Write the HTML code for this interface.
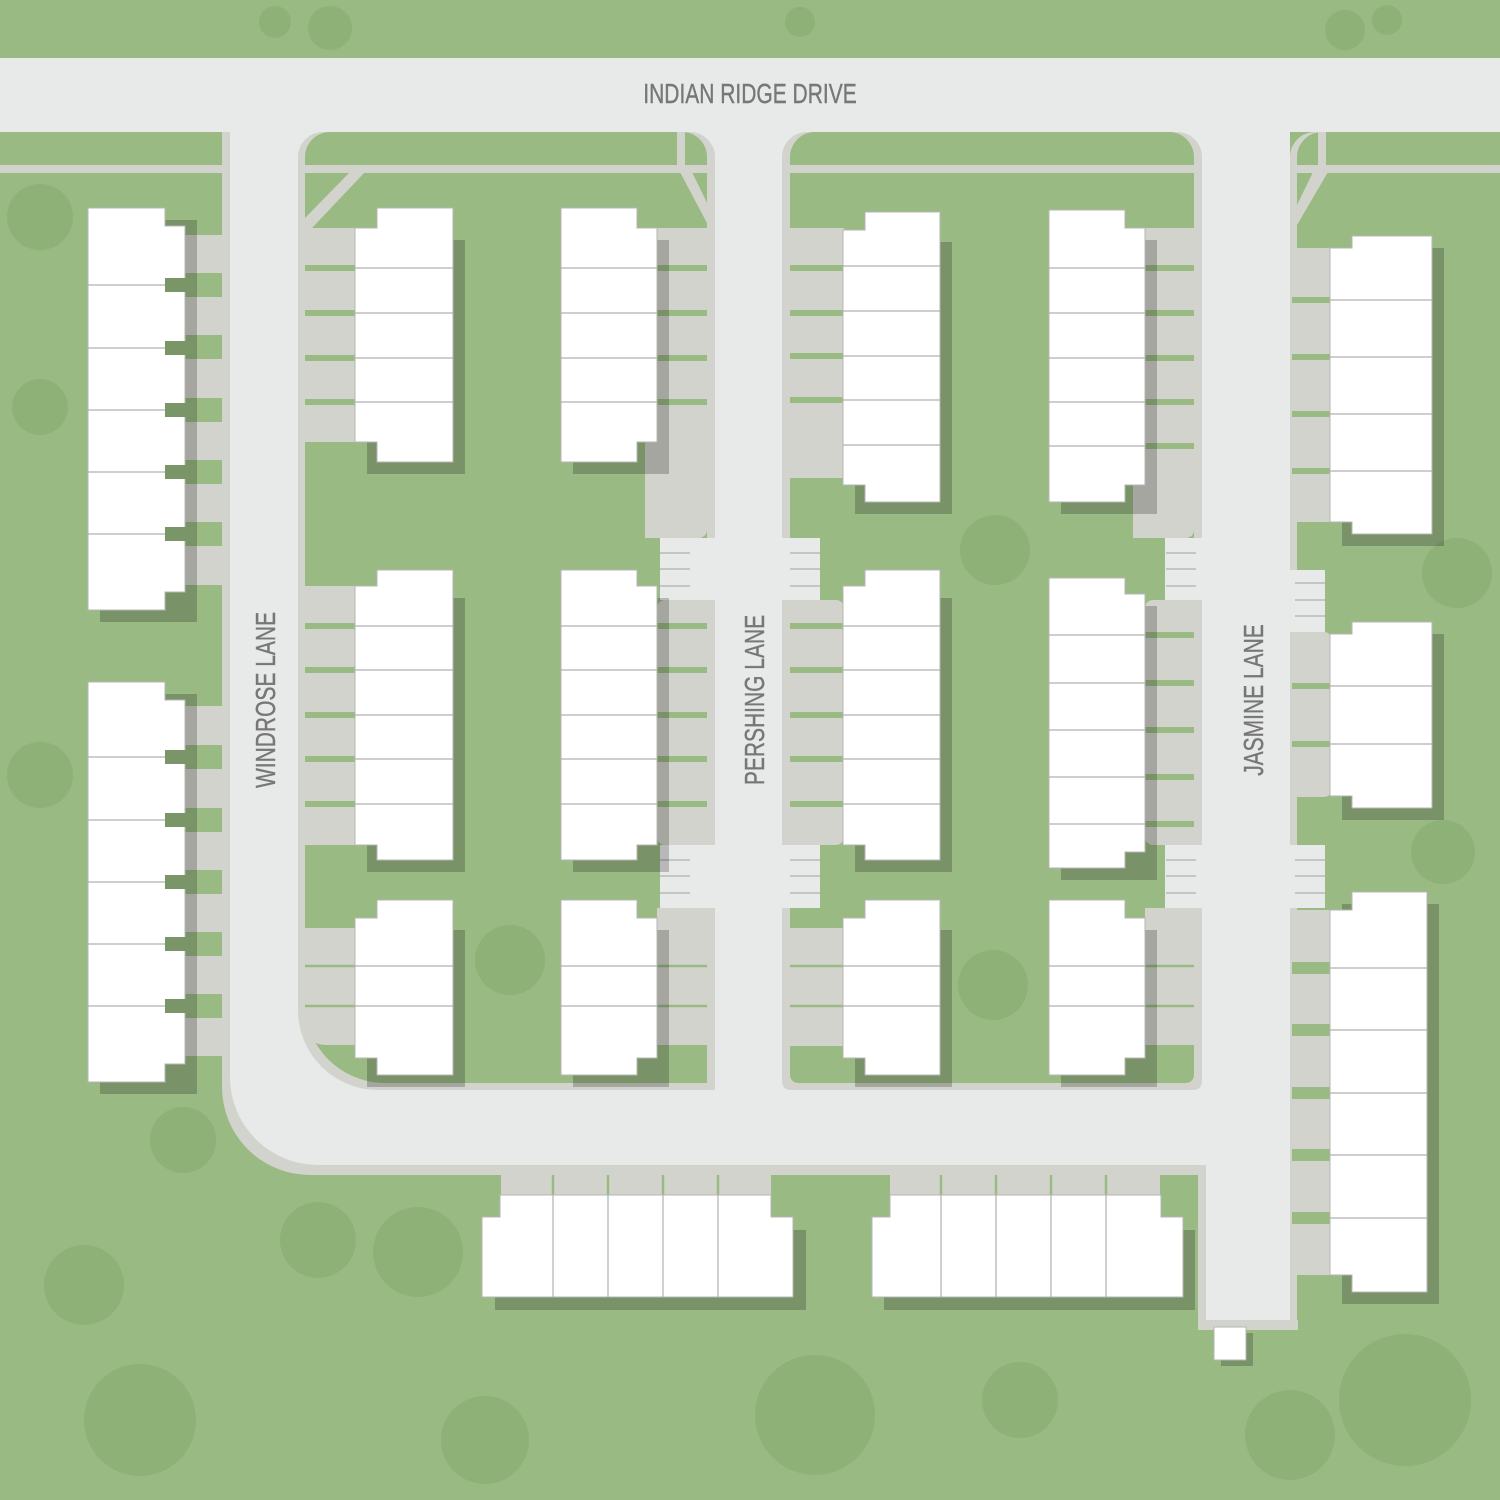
<!DOCTYPE html>
<html><head><meta charset="utf-8"><style>html,body{margin:0;padding:0;background:#9aba84}svg{display:block}</style></head><body>
<svg width="1500" height="1500" viewBox="0 0 1500 1500" xmlns="http://www.w3.org/2000/svg">
<rect width="1500" height="1500" fill="#9aba84"/>
<!-- roads -->
<path d="M0,58 H1500 V132 H1290 V1330 H1198 V1175 H310 A88 88 0 0 1 222 1087 V132 H0 Z" fill="#d2d3cc"/>
<path d="M0,58 H1500 V132 H1290 V1320 H1206 V1165 H318 A88 88 0 0 1 230 1077 V132 H0 Z" fill="#e8eae9"/>
<!-- blocks -->
<path d="M298,157 A25 25 0 0 1 323 132 H690 A25 25 0 0 1 715 157 V1090 H378 A80 80 0 0 1 298 1010 Z" fill="#d2d3cc"/>
<path d="M305,157 A25 25 0 0 1 330 132 H683 A25 25 0 0 1 707 157 V1083 H385 A80 80 0 0 1 305 1003 Z" fill="#9aba84"/>
<path d="M782,157 A25 25 0 0 1 807 132 H1177 A25 25 0 0 1 1202 157 V1082 A8 8 0 0 1 1194 1090 H790 A8 8 0 0 1 782 1082 Z" fill="#d2d3cc"/>
<path d="M790,157 A25 25 0 0 1 815 132 H1169 A25 25 0 0 1 1194 157 V1075 A8 8 0 0 1 1186 1083 H798 A8 8 0 0 1 790 1075 Z" fill="#9aba84"/>
<path d="M0,132 H197 A25 25 0 0 1 222 157 V1087 H0Z" fill="#9aba84"/>
<rect x="222" y="150" width="8" height="940" fill="#d2d3cc"/>
<path d="M1290,157 A25 25 0 0 1 1315 132 H1500 V1330 H1290Z" fill="#d2d3cc"/>
<path d="M1297,157 A25 25 0 0 1 1322 132 H1500 V1500 H1297Z" fill="#9aba84"/>
<rect x="1200" y="1320" width="98" height="10" fill="#d2d3cc"/>
<!-- trees -->
<g fill="#8db177">
<circle cx="275" cy="22" r="16"/><circle cx="330" cy="28" r="22"/><circle cx="800" cy="22" r="15"/><circle cx="1345" cy="30" r="20"/><circle cx="1387" cy="20" r="15"/>
<circle cx="40" cy="217" r="33"/><circle cx="40" cy="407" r="28"/><circle cx="40" cy="775" r="33"/><circle cx="183" cy="1140" r="33"/><circle cx="318" cy="1240" r="38"/><circle cx="418" cy="1252" r="45"/><circle cx="84" cy="1285" r="40"/><circle cx="140" cy="1420" r="56"/><circle cx="485" cy="1440" r="44"/><circle cx="815" cy="1415" r="60"/><circle cx="1020" cy="1400" r="38"/><circle cx="1290" cy="1435" r="45"/><circle cx="1405" cy="1400" r="66"/><circle cx="995" cy="550" r="35"/><circle cx="510" cy="960" r="35"/><circle cx="993" cy="985" r="35"/><circle cx="1457" cy="573" r="35"/><circle cx="1443" cy="852" r="32"/>
</g>
<!-- sidewalks -->
<g fill="#d2d3cc">
<rect x="0" y="165" width="222" height="8"/><rect x="305" y="165" width="403" height="8"/><rect x="790" y="165" width="405" height="8"/><rect x="1297" y="165" width="203" height="8"/>
<rect x="677" y="132" width="8" height="40"/><rect x="1318" y="132" width="8" height="40"/>
<polygon points="305,218 350,172 365,172 312,228 305,228"/>
<polygon points="680,172 692,172 708,205 708,225"/>
<polygon points="1313,172 1328,172 1297,225 1297,205"/>
</g>
<!-- crossings -->
<g fill="#e8eae9">
<rect x="660" y="538" width="160" height="62"/><rect x="660" y="845" width="160" height="63"/>
<rect x="1165" y="538" width="40" height="62"/><rect x="1165" y="845" width="40" height="63"/>
<rect x="1288" y="570" width="37" height="62"/><rect x="1288" y="845" width="37" height="63"/>
</g>
<g stroke="#b8b9b4" stroke-width="1.5">
<path d="M660,553H690M660,569H690M660,586H690M790,553H820M790,569H820M790,586H820"/>
<path d="M660,860H690M660,876H690M660,893H690M790,860H820M790,876H820M790,893H820"/>
<path d="M1166,553H1196M1166,569H1196M1166,586H1196M1166,860H1196M1166,876H1196M1166,893H1196"/>
<path d="M1295,583H1325M1295,600H1325M1295,616H1325M1295,860H1325M1295,876H1325M1295,893H1325"/>
</g>
<!-- driveways -->
<g fill="#d2d3cc">
<rect x="185" y="235" width="37" height="350"/><rect x="185" y="706" width="37" height="350"/>
<rect x="305" y="228" width="52" height="214"/><rect x="305" y="586" width="52" height="259"/><path d="M305,928H357V1045H325A20 20 0 0 1 305 1025Z"/>
<path d="M645,228H707V530A8 8 0 0 1 699 538H645Z"/><rect x="657" y="600" width="58" height="245" rx="8"/><rect x="657" y="908" width="50" height="137"/>
<rect x="782" y="228" width="62" height="250"/><rect x="782" y="600" width="62" height="245" rx="8"/><rect x="790" y="928" width="54" height="118"/>
<path d="M1133,228H1194V530A8 8 0 0 1 1186 538H1133Z"/><rect x="1145" y="600" width="57" height="245" rx="8"/><rect x="1145" y="908" width="49" height="137"/>
<rect x="1297" y="248" width="35" height="274"/><rect x="1290" y="632" width="42" height="165" rx="8"/><rect x="1297" y="910" width="35" height="365"/>
<rect x="501" y="1175" width="270" height="20"/><rect x="890" y="1175" width="270" height="20"/>
</g>
<g fill="#9aba84">
<rect x="185" y="273" width="37" height="24"/><rect x="185" y="335" width="37" height="24"/><rect x="185" y="398" width="37" height="24"/><rect x="185" y="460" width="37" height="24"/><rect x="185" y="522" width="37" height="24"/>
<rect x="185" y="745" width="37" height="24"/><rect x="185" y="808" width="37" height="24"/><rect x="185" y="870" width="37" height="24"/><rect x="185" y="932" width="37" height="24"/><rect x="185" y="994" width="37" height="24"/>
</g>
<g stroke="#9aba84" stroke-width="6">
<path d="M305,268H375M305,313H375M305,358H375M305,402H375M305,626H375M305,670H375M305,715H375M305,759H375M305,804H375"/>
<path d="M637,268H707M637,313H707M637,358H707M637,402H707M637,626H707M637,670H707M637,715H707M637,759H707M637,804H707"/>
<path d="M790,268H862M790,313H862M790,356H862M790,400H862M790,626H862M790,670H862M790,715H862M790,759H862M790,804H862"/>
<path d="M1125,268H1194M1125,313H1194M1125,358H1194M1125,402H1194M1125,446H1194M1125,635H1194M1125,683H1194M1125,730H1194M1125,777H1194M1125,824H1194"/>
<path d="M1292,300H1350M1292,357H1350M1292,414H1350M1292,471H1350M1292,686H1350M1292,744H1350"/>
</g>
<g stroke="#9aba84" stroke-width="12"><path d="M1292,968H1350M1292,1030H1350M1292,1093H1350M1292,1155H1350M1292,1218H1350"/></g>
<g stroke="#9aba84" stroke-width="2.5">
<path d="M305,966H375M305,1006H375M637,966H707M637,1006H707M790,966H862M790,1006H862M1125,966H1194M1125,1006H1194"/>
<path d="M553,1175V1195M608,1175V1195M663,1175V1195M718,1175V1195M941,1175V1195M996,1175V1195M1051,1175V1195M1106,1175V1195"/>
</g>
<!-- shadows -->
<g fill="#000" fill-opacity="0.21">
<rect x="100" y="220" width="97" height="402"/><rect x="100" y="694" width="97" height="400"/>
<rect x="367" y="240" width="98" height="234"/><rect x="367" y="598" width="98" height="274"/><rect x="367" y="930" width="98" height="157"/>
<rect x="573" y="240" width="96" height="234"/><rect x="573" y="598" width="96" height="274"/><rect x="573" y="930" width="96" height="157"/>
<rect x="855" y="242" width="97" height="272"/><rect x="855" y="598" width="97" height="274"/><rect x="855" y="930" width="97" height="157"/>
<rect x="1061" y="240" width="96" height="274"/><rect x="1061" y="606" width="96" height="274"/><rect x="1061" y="930" width="96" height="157"/>
<rect x="1342" y="248" width="102" height="298"/><rect x="1342" y="634" width="102" height="186"/><rect x="1342" y="904" width="97" height="400"/>
<rect x="495" y="1230" width="311" height="80"/><rect x="884" y="1230" width="311" height="80"/>
<rect x="1221" y="1333" width="32" height="33"/>
</g>
<!-- buildings -->
<g fill="#fff" stroke="#b5b5b5" stroke-width="1">
<path d="M88,208H165V226H185V592H165V610H88Z"/><path d="M88,682H165V700H185V1064H165V1082H88Z"/>
<path d="M377,208H453V462H377V442H355V228H377Z"/><path d="M377,570H453V860H377V845H355V586H377Z"/><path d="M377,900H453V1075H377V1058H355V918H377Z"/>
<path d="M561,208H637V228H657V442H637V462H561Z"/><path d="M561,570H637V586H657V845H637V860H561Z"/><path d="M561,900H637V918H657V1058H637V1075H561Z"/>
<path d="M865,212H940V502H865V485H843V230H865Z"/><path d="M865,570H940V860H865V845H843V586H865Z"/><path d="M865,900H940V1075H865V1058H843V918H865Z"/>
<path d="M1049,210H1125V228H1145V485H1125V502H1049Z"/><path d="M1049,578H1125V594H1145V852H1125V868H1049Z"/><path d="M1049,900H1125V918H1145V1058H1125V1075H1049Z"/>
<path d="M1352,236H1432V534H1352V522H1330V248H1352Z"/><path d="M1352,622H1432V808H1352V796H1330V634H1352Z"/><path d="M1352,892H1427V1292H1352V1275H1330V910H1352Z"/>
<path d="M500,1195H771V1217H793V1297H482V1217H500Z"/><path d="M890,1195H1161V1217H1183V1297H872V1217H890Z"/>
<rect x="1214" y="1327" width="32" height="33"/>
</g>
<g stroke="#b0b0b0" stroke-width="1.2">
<path d="M88,285H185M88,348H185M88,410H185M88,472H185M88,534H185M88,757H185M88,820H185M88,882H185M88,944H185M88,1006H185"/>
<path d="M355,268H453M355,313H453M355,358H453M355,402H453M355,626H453M355,670H453M355,715H453M355,759H453M355,804H453M355,966H453M355,1006H453"/>
<path d="M561,268H657M561,313H657M561,358H657M561,402H657M561,626H657M561,670H657M561,715H657M561,759H657M561,804H657M561,966H657M561,1006H657"/>
<path d="M843,266H940M843,311H940M843,356H940M843,400H940M843,445H940M843,626H940M843,670H940M843,715H940M843,759H940M843,804H940M843,966H940M843,1006H940"/>
<path d="M1049,268H1145M1049,313H1145M1049,358H1145M1049,402H1145M1049,446H1145M1049,635H1145M1049,683H1145M1049,730H1145M1049,777H1145M1049,824H1145M1049,966H1145M1049,1006H1145"/>
<path d="M1330,300H1432M1330,357H1432M1330,414H1432M1330,471H1432M1330,686H1432M1330,744H1432M1330,968H1427M1330,1030H1427M1330,1093H1427M1330,1155H1427M1330,1218H1427"/>
<path d="M553,1195V1297M608,1195V1297M663,1195V1297M718,1195V1297M941,1195V1297M996,1195V1297M1051,1195V1297M1106,1195V1297"/>
</g>
<g fill="#7a9668">
<rect x="165" y="278" width="30" height="14"/><rect x="165" y="341" width="30" height="14"/><rect x="165" y="403" width="30" height="14"/><rect x="165" y="465" width="30" height="14"/><rect x="165" y="527" width="30" height="14"/>
<rect x="165" y="750" width="30" height="14"/><rect x="165" y="813" width="30" height="14"/><rect x="165" y="875" width="30" height="14"/><rect x="165" y="937" width="30" height="14"/><rect x="165" y="999" width="30" height="14"/>
</g>
<!-- labels -->
<g font-family="'Liberation Sans Narrow','Liberation Sans',sans-serif" font-size="28" fill="#777" text-anchor="middle" stroke="#777" stroke-width="0.4">
<text transform="translate(750 103) scale(0.75 1)">INDIAN RIDGE DRIVE</text>
<text transform="translate(275 700) rotate(-90) scale(0.75 1)">WINDROSE LANE</text>
<text transform="translate(764 700) rotate(-90) scale(0.75 1)">PERSHING LANE</text>
<text transform="translate(1263 700) rotate(-90) scale(0.75 1)">JASMINE LANE</text>
</g>
</svg>
</body></html>
